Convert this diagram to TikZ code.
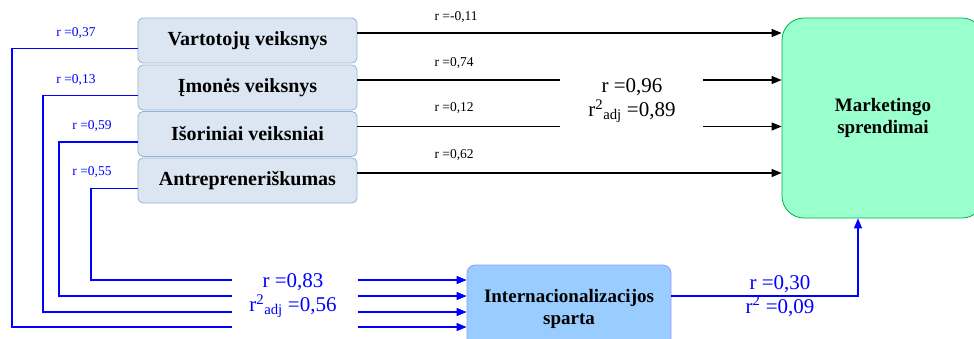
\documentclass[tikz,border=0pt]{standalone}
\usepackage{fontspec}
\setmainfont{Liberation Serif}
\usetikzlibrary{arrows.meta}
\definecolor{factfill}{HTML}{DCE6F2}
\definecolor{factline}{HTML}{95B3D7}
\definecolor{mktfill}{HTML}{99FFCC}
\definecolor{mktline}{HTML}{00B050}
\definecolor{intfill}{HTML}{99CCFF}
\definecolor{intline}{HTML}{9999FF}
\definecolor{rblue}{HTML}{0000FF}
\tikzset{
  factor/.style={draw=factline,fill=factfill,line width=0.8pt,rounded corners=5pt,
    minimum width=219pt,minimum height=45pt,font=\fontsize{20}{22}\selectfont\bfseries},
  blk/.style={line width=1.2pt,black},
  blu/.style={line width=1.2pt,rblue},
  tip/.style={-{Triangle[length=10pt,width=8pt]}},
  small/.style={font=\fontsize{13.5}{15}\selectfont},
  big/.style={font=\fontsize{21}{24}\selectfont,align=center}
}

\begin{document}
\begin{tikzpicture}[x=1pt,y=-1pt]
  \useasboundingbox (0,0) rectangle (974,338);
  % boxes
  \node[factor] (vart) at (247.5,40.5) {Vartotojų veiksnys};
  \node[factor] (imon) at (247.5,87.5) {Įmonės veiksnys};
  \node[factor] (isor) at (247.5,134) {Išoriniai veiksniai};
  \node[factor] (antr) at (247.5,180.5) {Antrepreneriškumas};
  \node[draw=mktline,fill=mktfill,line width=0.8pt,rounded corners=22pt,
    minimum width=202pt,minimum height=200pt,align=center,
    font=\fontsize{19}{22}\selectfont\bfseries] (mkt) at (883,118) {Marketingo\\sprendimai};
  \node[draw=intline,fill=intfill,line width=0.8pt,rounded corners=8pt,
    minimum width=204pt,minimum height=88pt,align=center,
    font=\fontsize{19}{22}\selectfont\bfseries] (intl) at (569,309) {Internacionalizacijos\\sparta};

  % black arrows to marketing
  \coordinate (gapL) at (560,0);
  \coordinate (gapR) at (703,0);
  \coordinate (vR) at ([yshift=7.5pt]vart.east);
  \coordinate (iR) at ([yshift=7.5pt]imon.east);
  \coordinate (sR) at ([yshift=7.5pt]isor.east);
  \coordinate (aR) at ([yshift=7.5pt]antr.east);
  \draw[blk,tip] (vR) -- (vR -| mkt.west);
  \draw[blk] (iR) -- (iR -| gapL);
  \draw[blk,tip] (iR -| gapR) -- (iR -| mkt.west);
  \draw[blk] (sR) -- (sR -| gapL);
  \draw[blk,tip] (sR -| gapR) -- (sR -| mkt.west);
  \draw[blk,tip] (aR) -- (aR -| mkt.west);
  \node[small,anchor=west] (lv) at (431,17) {r =-0,11};
  \node[small,anchor=west] (li) at (431,63) {r =0,74};
  \node[small,anchor=west] (ls) at (431,108) {r =0,12};
  \node[small,anchor=west] (la) at (431,155) {r =0,62};
  \node[big] (mktr) at (632,101) {r =0,96\\r\textsuperscript{2}\textsubscript{adj} =0,89};

  % blue arrows to internacionalizacija
  \coordinate (bgapL) at (232,0);
  \coordinate (bgapR) at (358,0);
  \coordinate (vL) at ([yshift=-8pt]vart.west);
  \coordinate (iL) at ([yshift=-8pt]imon.west);
  \coordinate (sL) at ([yshift=-8pt]isor.west);
  \coordinate (aL) at ([yshift=-8pt]antr.west);
  \coordinate (vB) at (12,327);
  \coordinate (iB) at (43,312);
  \coordinate (sB) at (59,296);
  \coordinate (aB) at (91,280);
  \draw[blu] (vL) -| (vB) -- (vB -| bgapL);
  \draw[blu] (iL) -| (iB) -- (iB -| bgapL);
  \draw[blu] (sL) -| (sB) -- (sB -| bgapL);
  \draw[blu] (aL) -| (aB) -- (aB -| bgapL);
  \draw[blu,tip] (vB -| bgapR) -- (vB -| intl.west);
  \draw[blu,tip] (iB -| bgapR) -- (iB -| intl.west);
  \draw[blu,tip] (sB -| bgapR) -- (sB -| intl.west);
  \draw[blu,tip] (aB -| bgapR) -- (aB -| intl.west);
  \node[small,rblue] (bv) at (76,33) {r =0,37};
  \node[small,rblue] (bi) at (76,80) {r =0,13};
  \node[small,rblue] (bs) at (92,126) {r =0,59};
  \node[small,rblue] (ba) at (92,172) {r =0,55};
  \node[big,rblue] (intr) at (293,296) {r =0,83\\r\textsuperscript{2}\textsubscript{adj} =0,56};

  % internacionalizacija to marketing
  \coordinate (intR) at ([yshift=13pt]intl.east);
  \coordinate (mktIn) at ([xshift=-25pt]mkt.south);
  \draw[blu,tip] (intR) -| (mktIn);
  \node[big,rblue] (intmk) at (780,296) {r =0,30\\r\textsuperscript{2} =0,09};
\end{tikzpicture}
\end{document}
